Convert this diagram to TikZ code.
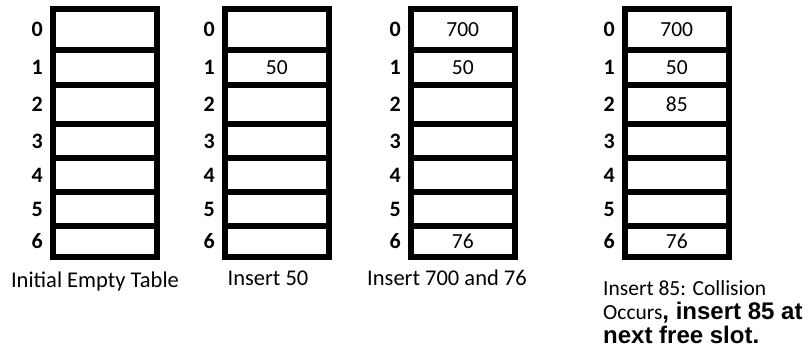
\documentclass[tikz,border=0pt]{standalone}
\usepackage{fontspec}
\setmainfont{Carlito}
\newfontfamily\notefont{Liberation Sans}
\usetikzlibrary{positioning}

\newcommand{\bignote}{\notefont\bfseries\fontsize{24}{24}\selectfont}

\tikzset{
	cell/.style={draw=black, line width=5.5pt, minimum width=104pt, inner sep=0pt},
	idx/.style={font=\fontsize{22}{24}\selectfont\bfseries, inner sep=0pt},
	val/.style={font=\fontsize{21.5}{24}\selectfont, inner sep=0pt},
	caption/.style={font=\fontsize{22.5}{24}\selectfont, inner sep=0pt}
}

\begin{document}
\begin{tikzpicture}[x=1pt, y=-1pt]
	
	\useasboundingbox (0,0) rectangle (808,354);
	
	% ---- Four hash tables, seven slots each ----
	\foreach \tbl/\xl in {A/50, B/222, C/408, D/622}
	{
		\foreach \i/\ya/\yb in {0/9/50, 1/50/85, 2/85/124, 3/124/158, 4/158/192, 5/192/226, 6/226/257}
		{
			\node[cell, minimum height={\yb-\ya}] (\tbl\i) at ({\xl+54.75},{(\ya+\yb)/2}) {};
			\node[idx, left=7pt of \tbl\i] (l\tbl\i) {\i};
		}
	}
	
	% ---- Stored keys ----
	\node[val] (vB1) at (B1) {50};
	\node[val] (vC0) at (C0) {700};
	\node[val] (vC1) at (C1) {50};
	\node[val] (vC6) at (C6) {76};
	\node[val] (vD0) at (D0) {700};
	\node[val] (vD1) at (D1) {50};
	\node[val] (vD2) at (D2) {85};
	\node[val] (vD6) at (D6) {76};
	
	% ---- Captions ----
	\node[caption] (capA) at (95,281) {Initial Empty Table};
	\node[caption] (capB) at (268,278) {Insert 50};
	\node[caption] (capC) at (447,278) {Insert 700 and 76};
	\node[caption, anchor=north west, align=left, font=\fontsize{21.5}{24}\selectfont] (capD) at (603,280)
	{Insert 85: Collision\\Occurs{\bignote, insert 85 at}\\{\bignote next free slot.}};
	
\end{tikzpicture}
\end{document}
